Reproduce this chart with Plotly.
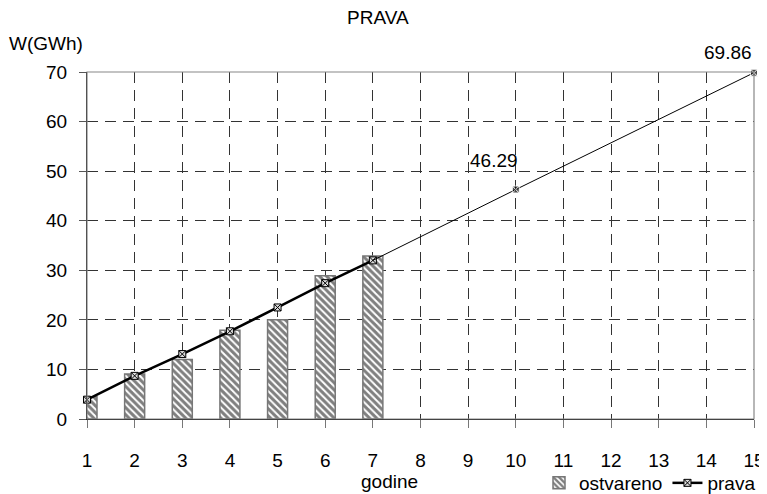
import plotly.graph_objects as go

# godine (years) and values
godine = [1, 2, 3, 4, 5, 6, 7]
ostvareno = [4.5, 9.1, 12.0, 17.9, 20.0, 28.9, 32.9]

prava_x = [1, 2, 3, 4, 5, 6, 7, 10, 15]
prava_y = [3.9, 8.7, 13.1, 17.7, 22.5, 27.4, 32.0, 46.29, 69.86]

x_ticks = list(range(1, 16))
y_ticks = list(range(0, 80, 10))

FONT = "Liberation Sans, Arial, sans-serif"
fs = 19

# the html body adds an 8px offset, so the figure is drawn 8px smaller
OFF = 8
W, H = 767 - OFF, 494 - OFF

# plot area in window pixels
L, R, T, B = 87, 754, 72, 419
PW, PH = R - L, B - T


def px_x(p):
    return (p - L) / PW


def px_y(p):
    return (B - p) / PH


fig = go.Figure()

# hatched bars
fig.add_trace(go.Bar(
    x=godine, y=ostvareno, name="ostvareno", width=0.42,
    marker=dict(color="white", line=dict(color="#777777", width=1.5),
                pattern=dict(shape="\\", fgcolor="black", bgcolor="white",
                             size=5, solidity=0.6)),
))

# thick part of the line (measured years)
fig.add_trace(go.Scatter(
    x=prava_x[:7], y=prava_y[:7], name="prava", mode="lines+markers",
    line=dict(color="black", width=2.5), cliponaxis=False,
    marker=dict(symbol="square-x", size=7, color="#dddddd",
                line=dict(color="black", width=1)),
))

# thin extrapolation
fig.add_trace(go.Scatter(
    x=prava_x[6:], y=prava_y[6:], mode="lines+markers", showlegend=False,
    line=dict(color="black", width=1), cliponaxis=False,
    marker=dict(symbol="square-x", size=[0, 7, 7], color="black",
                line=dict(color="white", width=1)),
))

# value labels for the forecast points
fig.add_annotation(x=prava_x[7], y=prava_y[7], text=f"{prava_y[7]:.2f}",
                   showarrow=False, xanchor="right", yanchor="middle",
                   xshift=4, yshift=29, font=dict(size=fs, color="black"))
fig.add_annotation(x=prava_x[8], y=prava_y[8], text=f"{prava_y[8]:.2f}",
                   showarrow=False, xanchor="right", yanchor="middle",
                   xshift=0, yshift=20, font=dict(size=fs, color="black"))

# titles
fig.add_annotation(x=px_x(378), y=px_y(18), xref="paper", yref="paper", text="PRAVA",
                   xanchor="center", yanchor="middle", showarrow=False,
                   font=dict(size=fs, color="black"))
fig.add_annotation(x=px_x(7), y=px_y(43), xref="paper", yref="paper", text="W(GWh)",
                   xanchor="left", yanchor="middle", showarrow=False,
                   font=dict(size=fs, color="black"))
fig.add_annotation(x=px_x(389), y=px_y(481), xref="paper", yref="paper", text="godine",
                   xanchor="center", yanchor="middle", showarrow=False,
                   font=dict(size=fs, color="black"))

# frame: gray top/right, black axes
fig.add_shape(type="rect", xref="paper", yref="paper", x0=0, y0=0, x1=1, y1=1,
              line=dict(color="#888888", width=1.2), layer="above")

fig.update_xaxes(
    range=[1, 15], tickvals=x_ticks, showgrid=True, gridcolor="#333333",
    griddash="11px,7px", gridwidth=1, zeroline=False, automargin=False,
    showline=True, linecolor="black", linewidth=1.2,
    ticks="outside", ticklen=8, tickcolor="#777777", ticklabelstandoff=16,
    tickfont=dict(size=fs, color="black"),
)
fig.update_yaxes(
    range=[0, 70], tickvals=y_ticks, showgrid=True, gridcolor="#333333",
    griddash="11px,7px", gridwidth=1, zeroline=False, automargin=False,
    showline=True, linecolor="black", linewidth=1.2,
    ticks="outside", ticklen=7, tickcolor="#555555", ticklabelstandoff=8,
    tickfont=dict(size=fs, color="black"),
)

fig.update_layout(
    width=W, height=H,
    margin=dict(l=L - OFF, r=767 - R, t=T - OFF, b=494 - B, autoexpand=False),
    plot_bgcolor="white", paper_bgcolor="white",
    font=dict(family=FONT, size=fs, color="black"),
    bargap=0.5,
    legend=dict(orientation="h", x=px_x(761), xanchor="right", y=px_y(483),
                yanchor="middle", font=dict(size=fs), itemwidth=30,
                tracegroupgap=0, bgcolor="rgba(0,0,0,0)"),
)

fig.write_html("out.html")
